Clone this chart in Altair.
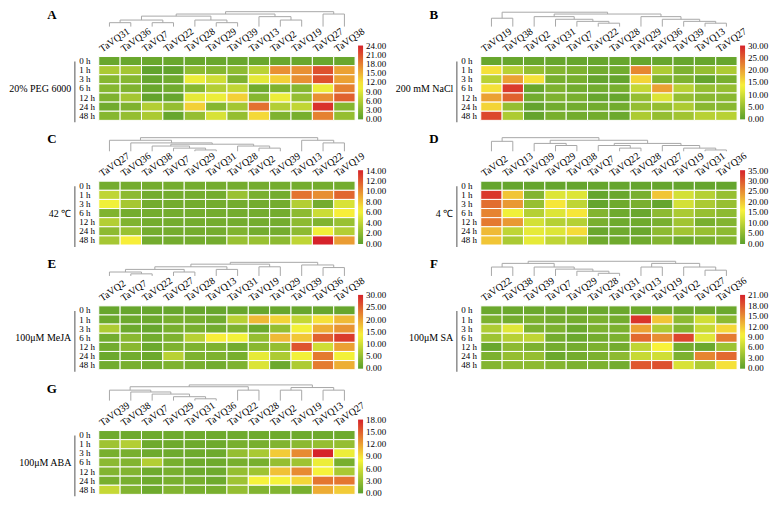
import altair as alt
import pandas as pd

FONT = "Liberation Serif"
GREEN, YELLOW, RED = "#5b9f2c", "#f8f43a", "#d6212a"
MID = 0.45

ROWS = ["0 h", "1 h", "3 h", "6 h", "12 h", "24 h", "48 h"]

# ---------------- Panel A ----------------
A_genes = ["TaVQ31", "TaVQ36", "TaVQ7", "TaVQ22", "TaVQ28", "TaVQ29", "TaVQ39", "TaVQ13", "TaVQ2", "TaVQ19", "TaVQ27", "TaVQ38"]
A_values = [
    [1, 1, 1, 1, 1, 1, 1, 1, 1, 1, 1, 1],
    [5.5, 5, 0.4, 0.5, 3.5, 3, 3.5, 6.5, 17, 17, 21, 16],
    [3, 3, 0.8, 1.5, 10, 8, 2.5, 9.5, 13, 17, 21, 16],
    [3, 2.5, 1, 1.5, 3, 6, 7, 1.5, 2.5, 3, 10, 18],
    [2.5, 5, 0.5, 0.8, 9.5, 10, 13, 3, 10, 4, 17, 20],
    [1.5, 2.5, 6, 4, 13, 3, 5, 19, 6, 7, 23, 3],
    [3, 4, 5.5, 0.8, 4, 8.5, 4, 12.5, 2.5, 2, 18, 4],
]
A_tree = [57, [48, [40, [25, [15, "TaVQ31", "TaVQ36"], [15, "TaVQ7", "TaVQ22"]],
                     [25, "TaVQ28", [15, "TaVQ29", "TaVQ39"]]],
               [38, "TaVQ13", [25, "TaVQ2", "TaVQ19"]]],
          [48, "TaVQ27", "TaVQ38"]]

# ---------------- Panel B ----------------
B_genes = ["TaVQ19", "TaVQ38", "TaVQ2", "TaVQ31", "TaVQ7", "TaVQ22", "TaVQ28", "TaVQ29", "TaVQ36", "TaVQ39", "TaVQ13", "TaVQ27"]
B_values = [
    [1, 1, 1, 1, 1, 1, 1, 1, 1, 1, 1, 1],
    [15, 8, 5, 3.5, 3, 2, 2, 22, 7, 3, 5, 7],
    [8, 20, 15, 2.5, 2.5, 0.8, 0.8, 16, 3, 3, 0.8, 2.5],
    [15, 28, 1, 3, 2, 2, 2.5, 9, 20, 8, 5, 5],
    [20, 25, 2, 3, 2.5, 1, 1, 5, 11, 5, 4, 4],
    [16, 5, 0.8, 2, 2, 2, 2, 5, 5, 7, 4, 4],
    [27, 7, 0.8, 2.5, 2, 2, 1.5, 7, 5, 6, 8, 8],
]
B_tree = [55, [32, "TaVQ19", "TaVQ38"],
          [48, [38, "TaVQ2", [28, "TaVQ31", [20, "TaVQ7", [13, "TaVQ22", "TaVQ28"]]]],
               [38, "TaVQ29", [28, "TaVQ36", [20, "TaVQ39", [13, "TaVQ13", "TaVQ27"]]]]]]

# ---------------- Panel C ----------------
C_genes = ["TaVQ27", "TaVQ36", "TaVQ38", "TaVQ7", "TaVQ29", "TaVQ31", "TaVQ28", "TaVQ2", "TaVQ39", "TaVQ13", "TaVQ22", "TaVQ19"]
C_values = [
    [1, 1, 1, 1, 1, 1, 1, 1, 1, 1, 1, 1],
    [4, 2, 1, 1, 1, 1, 2.5, 1.2, 1, 11, 10, 11.5],
    [6, 3, 1, 1, 1, 1, 1, 1, 1, 3.5, 1, 5],
    [1.5, 1, 1, 1, 1, 1, 1, 1, 1, 2, 4.5, 6.5],
    [3.5, 1.5, 1, 1, 1, 1, 1, 1, 1, 2, 1.5, 2.5],
    [2, 2.5, 1, 1, 1, 1, 1.5, 1, 1, 2, 6, 3.5],
    [3, 6.5, 1, 1, 1, 1, 2.5, 2.5, 2, 4, 14, 9.5],
]
C_tree = [52, [42, "TaVQ27", [32, "TaVQ36", [27, [20, "TaVQ38", [12, "TaVQ7", [5, "TaVQ29", "TaVQ31"]]],
                                                 [20, "TaVQ28", [12, "TaVQ2", "TaVQ39"]]]]],
          [42, "TaVQ13", [32, "TaVQ22", "TaVQ19"]]]

# ---------------- Panel D ----------------
D_genes = ["TaVQ2", "TaVQ13", "TaVQ39", "TaVQ29", "TaVQ38", "TaVQ7", "TaVQ22", "TaVQ28", "TaVQ27", "TaVQ19", "TaVQ31", "TaVQ36"]
D_values = [
    [1, 1, 1, 1, 1, 1, 1, 1, 1, 1, 1, 1],
    [33, 20, 4, 13, 13, 1, 1.5, 3, 20, 12, 9, 6],
    [28, 24, 6, 17, 10, 1, 2, 3, 1, 12, 8, 6],
    [26, 15, 9, 13, 17, 4, 2, 1.5, 5, 8, 6, 5],
    [27, 24, 12, 9, 9, 3, 2, 2, 3, 7, 3, 4],
    [21, 10, 14, 13, 18, 1.5, 2, 1.5, 5, 7, 6, 5],
    [20, 8, 14, 10, 9, 2, 2, 2, 4, 2, 3, 4],
]
D_tree = [52, [38, "TaVQ2", "TaVQ13"],
          [42, [30, "TaVQ39", [22, "TaVQ29", "TaVQ38"]],
               [30, [22, "TaVQ7", [12, "TaVQ22", "TaVQ28"]],
                    [22, "TaVQ27", [12, "TaVQ19", [5, "TaVQ31", "TaVQ36"]]]]]]

# ---------------- Panel E ----------------
E_genes = ["TaVQ2", "TaVQ7", "TaVQ22", "TaVQ27", "TaVQ28", "TaVQ13", "TaVQ31", "TaVQ19", "TaVQ29", "TaVQ39", "TaVQ36", "TaVQ38"]
E_values = [
    [1, 1, 1, 1, 1, 1, 1, 1, 1, 1, 1, 1],
    [1.5, 1.5, 1.5, 2.5, 2.5, 2, 8, 18, 16, 9, 15, 18],
    [7, 1.5, 1, 2.5, 2.5, 2, 3, 1.5, 5, 13, 19, 21],
    [2, 4, 2, 3, 8, 14, 13, 5, 18, 17, 25, 28],
    [2, 4, 1.5, 3, 3, 3, 2, 4, 5, 26, 10, 20],
    [1.5, 2, 1.5, 8, 3, 3, 2.5, 12, 7, 13, 23, 13],
    [2, 2.5, 2, 3, 2.5, 2, 3, 11, 1.5, 7, 23, 19],
]
E_tree = [52, [45, [35, [25, [15, "TaVQ2", [8, "TaVQ7", "TaVQ22"]], [15, "TaVQ27", "TaVQ28"]],
                     [25, "TaVQ13", "TaVQ31"]],
               [35, "TaVQ19", "TaVQ29"]],
          [42, "TaVQ39", [32, "TaVQ36", "TaVQ38"]]]

# ---------------- Panel F ----------------
F_genes = ["TaVQ22", "TaVQ38", "TaVQ39", "TaVQ7", "TaVQ29", "TaVQ28", "TaVQ31", "TaVQ13", "TaVQ19", "TaVQ2", "TaVQ27", "TaVQ36"]
F_values = [
    [1, 1, 1, 1, 1, 1, 1, 1, 1, 1, 1, 1],
    [2, 1.5, 2, 1.5, 1.5, 2, 1.5, 20, 12, 3, 7, 3],
    [5, 8, 2, 2, 1, 2, 2, 14, 5, 2.5, 6.5, 11],
    [4, 5.5, 6, 1.5, 1, 1.5, 2, 17, 15, 19, 8, 16],
    [0.8, 3, 2, 1.5, 1.5, 2, 1.5, 6, 9.5, 1.5, 1, 4],
    [2, 3.5, 3.5, 1, 1.5, 2, 3, 6.5, 7, 2, 15.5, 17],
    [2.5, 3, 3, 2.5, 2, 2, 1.5, 18, 18.5, 7.5, 5, 10.5],
]
F_tree = [56, [48, [34, "TaVQ22", "TaVQ38"],
               [34, "TaVQ39", [26, "TaVQ7", [18, "TaVQ29", [10, "TaVQ28", "TaVQ31"]]]]],
          [48, [34, "TaVQ13", "TaVQ19"], [34, "TaVQ2", [22, "TaVQ27", "TaVQ36"]]]]

# ---------------- Panel G ----------------
G_genes = ["TaVQ39", "TaVQ38", "TaVQ7", "TaVQ29", "TaVQ31", "TaVQ36", "TaVQ22", "TaVQ28", "TaVQ2", "TaVQ19", "TaVQ13", "TaVQ27"]
G_values = [
    [1, 1, 1, 1, 1, 1, 1, 1, 1, 1, 1, 1],
    [3.5, 4.5, 1, 1, 1, 1, 1.5, 1.5, 2, 2.5, 3, 3],
    [1.5, 1.5, 1, 1, 1, 1, 3, 4, 10, 13, 18, 7.5],
    [2.5, 2, 4.5, 1.5, 1, 1, 1.5, 1.5, 3, 3.5, 7.5, 1.5],
    [2, 2, 1, 1.5, 1, 1, 3, 3.5, 10.5, 13, 8, 4],
    [1.5, 1.5, 1, 1.5, 1.5, 1, 3.5, 8, 8, 9.5, 14, 14],
    [5.5, 2, 1, 2, 1.5, 1.5, 3, 2, 2, 1.5, 11.5, 10],
]
G_tree = [60, [53, [40, "TaVQ39", [33, "TaVQ38", [25, "TaVQ7", [15, "TaVQ29", [7, "TaVQ31", "TaVQ36"]]]]],
               [40, "TaVQ22", "TaVQ28"]],
          [50, [40, "TaVQ2", "TaVQ19"], [40, "TaVQ13", "TaVQ27"]]]

PANELS = [
    ("A", "20% PEG 6000", A_genes, A_values, A_tree, 24, 3),
    ("B", "200 mM NaCl", B_genes, B_values, B_tree, 30, 5),
    ("C", "42 \u2103", C_genes, C_values, C_tree, 14, 2),
    ("D", "4 \u2103", D_genes, D_values, D_tree, 35, 5),
    ("E", "100\u03bcM MeJA", E_genes, E_values, E_tree, 30, 5),
    ("F", "100\u03bcM SA", F_genes, F_values, F_tree, 21, 3),
    ("G", "100\u03bcM ABA", G_genes, G_values, G_tree, 18, 3),
]

W, H = 257, 64
DH = 16
NSTOP = 20
EPS = 0.004


def _hex2rgb(h):
    return [int(h[i:i + 2], 16) for i in (1, 3, 5)]


def grad_color(f):
    f = min(max(f, 0.0), 1.0)
    a, b, t = (GREEN, YELLOW, f / MID) if f <= MID else (YELLOW, RED, (f - MID) / (1 - MID))
    ca, cb = _hex2rgb(a), _hex2rgb(b)
    return "#" + "".join("%02x" % round(ca[i] + (cb[i] - ca[i]) * t) for i in range(3))


def dendro_segments(tree, genes):
    pos = {g: i for i, g in enumerate(genes)}
    segs = []

    def walk(node):
        if isinstance(node, str):
            return float(pos[node]), 0.0
        h, l, r = node
        xl, hl = walk(l)
        xr, hr = walk(r)
        segs.append((xl, hl, xl, h))
        segs.append((xr, hr, xr, h))
        segs.append((xl, h, xr, h))
        return (xl + xr) / 2.0, h

    walk(tree)
    return pd.DataFrame(segs, columns=["x", "y", "x2", "y2"])


def panel(letter, treatment, genes, values, tree, vmax, step):
    df = pd.DataFrame([
        {"gene": g, "time": t, "value": values[i][j]}
        for i, t in enumerate(ROWS) for j, g in enumerate(genes)
    ])
    seg = dendro_segments(tree, genes)
    dend = alt.Chart(seg).mark_rule(color="#a8a8a8", strokeWidth=1).encode(
        x=alt.X("x:Q", scale=alt.Scale(domain=[-0.5, len(genes) - 0.5], nice=False, zero=False), axis=None),
        x2="x2:Q",
        y=alt.Y("y:Q", scale=alt.Scale(domain=[0, 61], nice=False), axis=None),
        y2="y2:Q",
    )
    lab = alt.Chart(pd.DataFrame({"t": [letter]})).mark_text(
        font=FONT, fontSize=13, fontWeight="bold", align="center", baseline="middle"
    ).encode(x=alt.value(-47), y=alt.value(4), text="t:N")
    top = alt.layer(dend, lab).properties(width=W, height=DH)

    ticks = [step * k for k in range(int(round(vmax / step)) + 1)]
    lo, hi = -EPS * vmax, (1 + EPS) * vmax
    cdomain = [lo + (hi - lo) * k / NSTOP for k in range(NSTOP + 1)]
    crange = [grad_color(d / vmax) for d in cdomain]
    heat = alt.Chart(df).mark_rect(stroke="white", strokeWidth=1).encode(
        x=alt.X("gene:N", sort=genes,
                scale=alt.Scale(paddingInner=0, paddingOuter=0),
                axis=alt.Axis(orient="top", title=None, labelAngle=-35, labelAlign="left",
                              labelBaseline="bottom", labelOffset=-6, labelPadding=3,
                              ticks=False, tickSize=0, domain=False, labelFont=FONT,
                              labelFontSize=10, labelColor="black")),
        y=alt.Y("time:N", sort=ROWS,
                scale=alt.Scale(paddingInner=0, paddingOuter=0),
                axis=alt.Axis(title=treatment, titleAngle=0, titleAlign="right",
                              titleBaseline="middle", titleX=-28, titleY=H / 2,
                              titleFont=FONT, titleFontSize=10, titleFontWeight="normal",
                              titleColor="black",
                              labelAlign="left", labelPadding=20, ticks=False, tickSize=0,
                              domain=False, labelFont=FONT, labelFontSize=9,
                              labelColor="black")),
        color=alt.Color("value:Q",
                        scale=alt.Scale(domain=cdomain, range=crange),
                        legend=alt.Legend(orient="none", legendX=W + 3, legendY=-11,
                                          direction="vertical", gradientLength=74,
                                          gradientThickness=5, title=None, values=ticks,
                                          format=".2f", labelFont=FONT, labelFontSize=9,
                                          labelOverlap=False, labelOffset=3,
                                          labelColor="black", gradientStrokeWidth=0)),
    )
    bracket = alt.Chart(pd.DataFrame({"a": [0]})).mark_rule(color="#8c8c8c", strokeWidth=1.5).encode(
        x=alt.value(-24), y=alt.value(H / 7 * 0.55), y2=alt.value(H + 2)
    )
    bottom = alt.layer(heat, bracket).properties(width=W, height=H)
    return alt.vconcat(top, bottom, spacing=-2).resolve_scale(
        x="independent", y="independent", color="independent"
    )


panels = [panel(*p) for p in PANELS]

chart = alt.concat(*panels, columns=2, spacing={"row": 9, "column": 8}).resolve_scale(
    x="independent", y="independent", color="independent"
).resolve_legend(color="independent").configure_view(stroke=None).properties(padding=0)

chart.save("out.html", embed_options={"renderer": "svg", "actions": False})
